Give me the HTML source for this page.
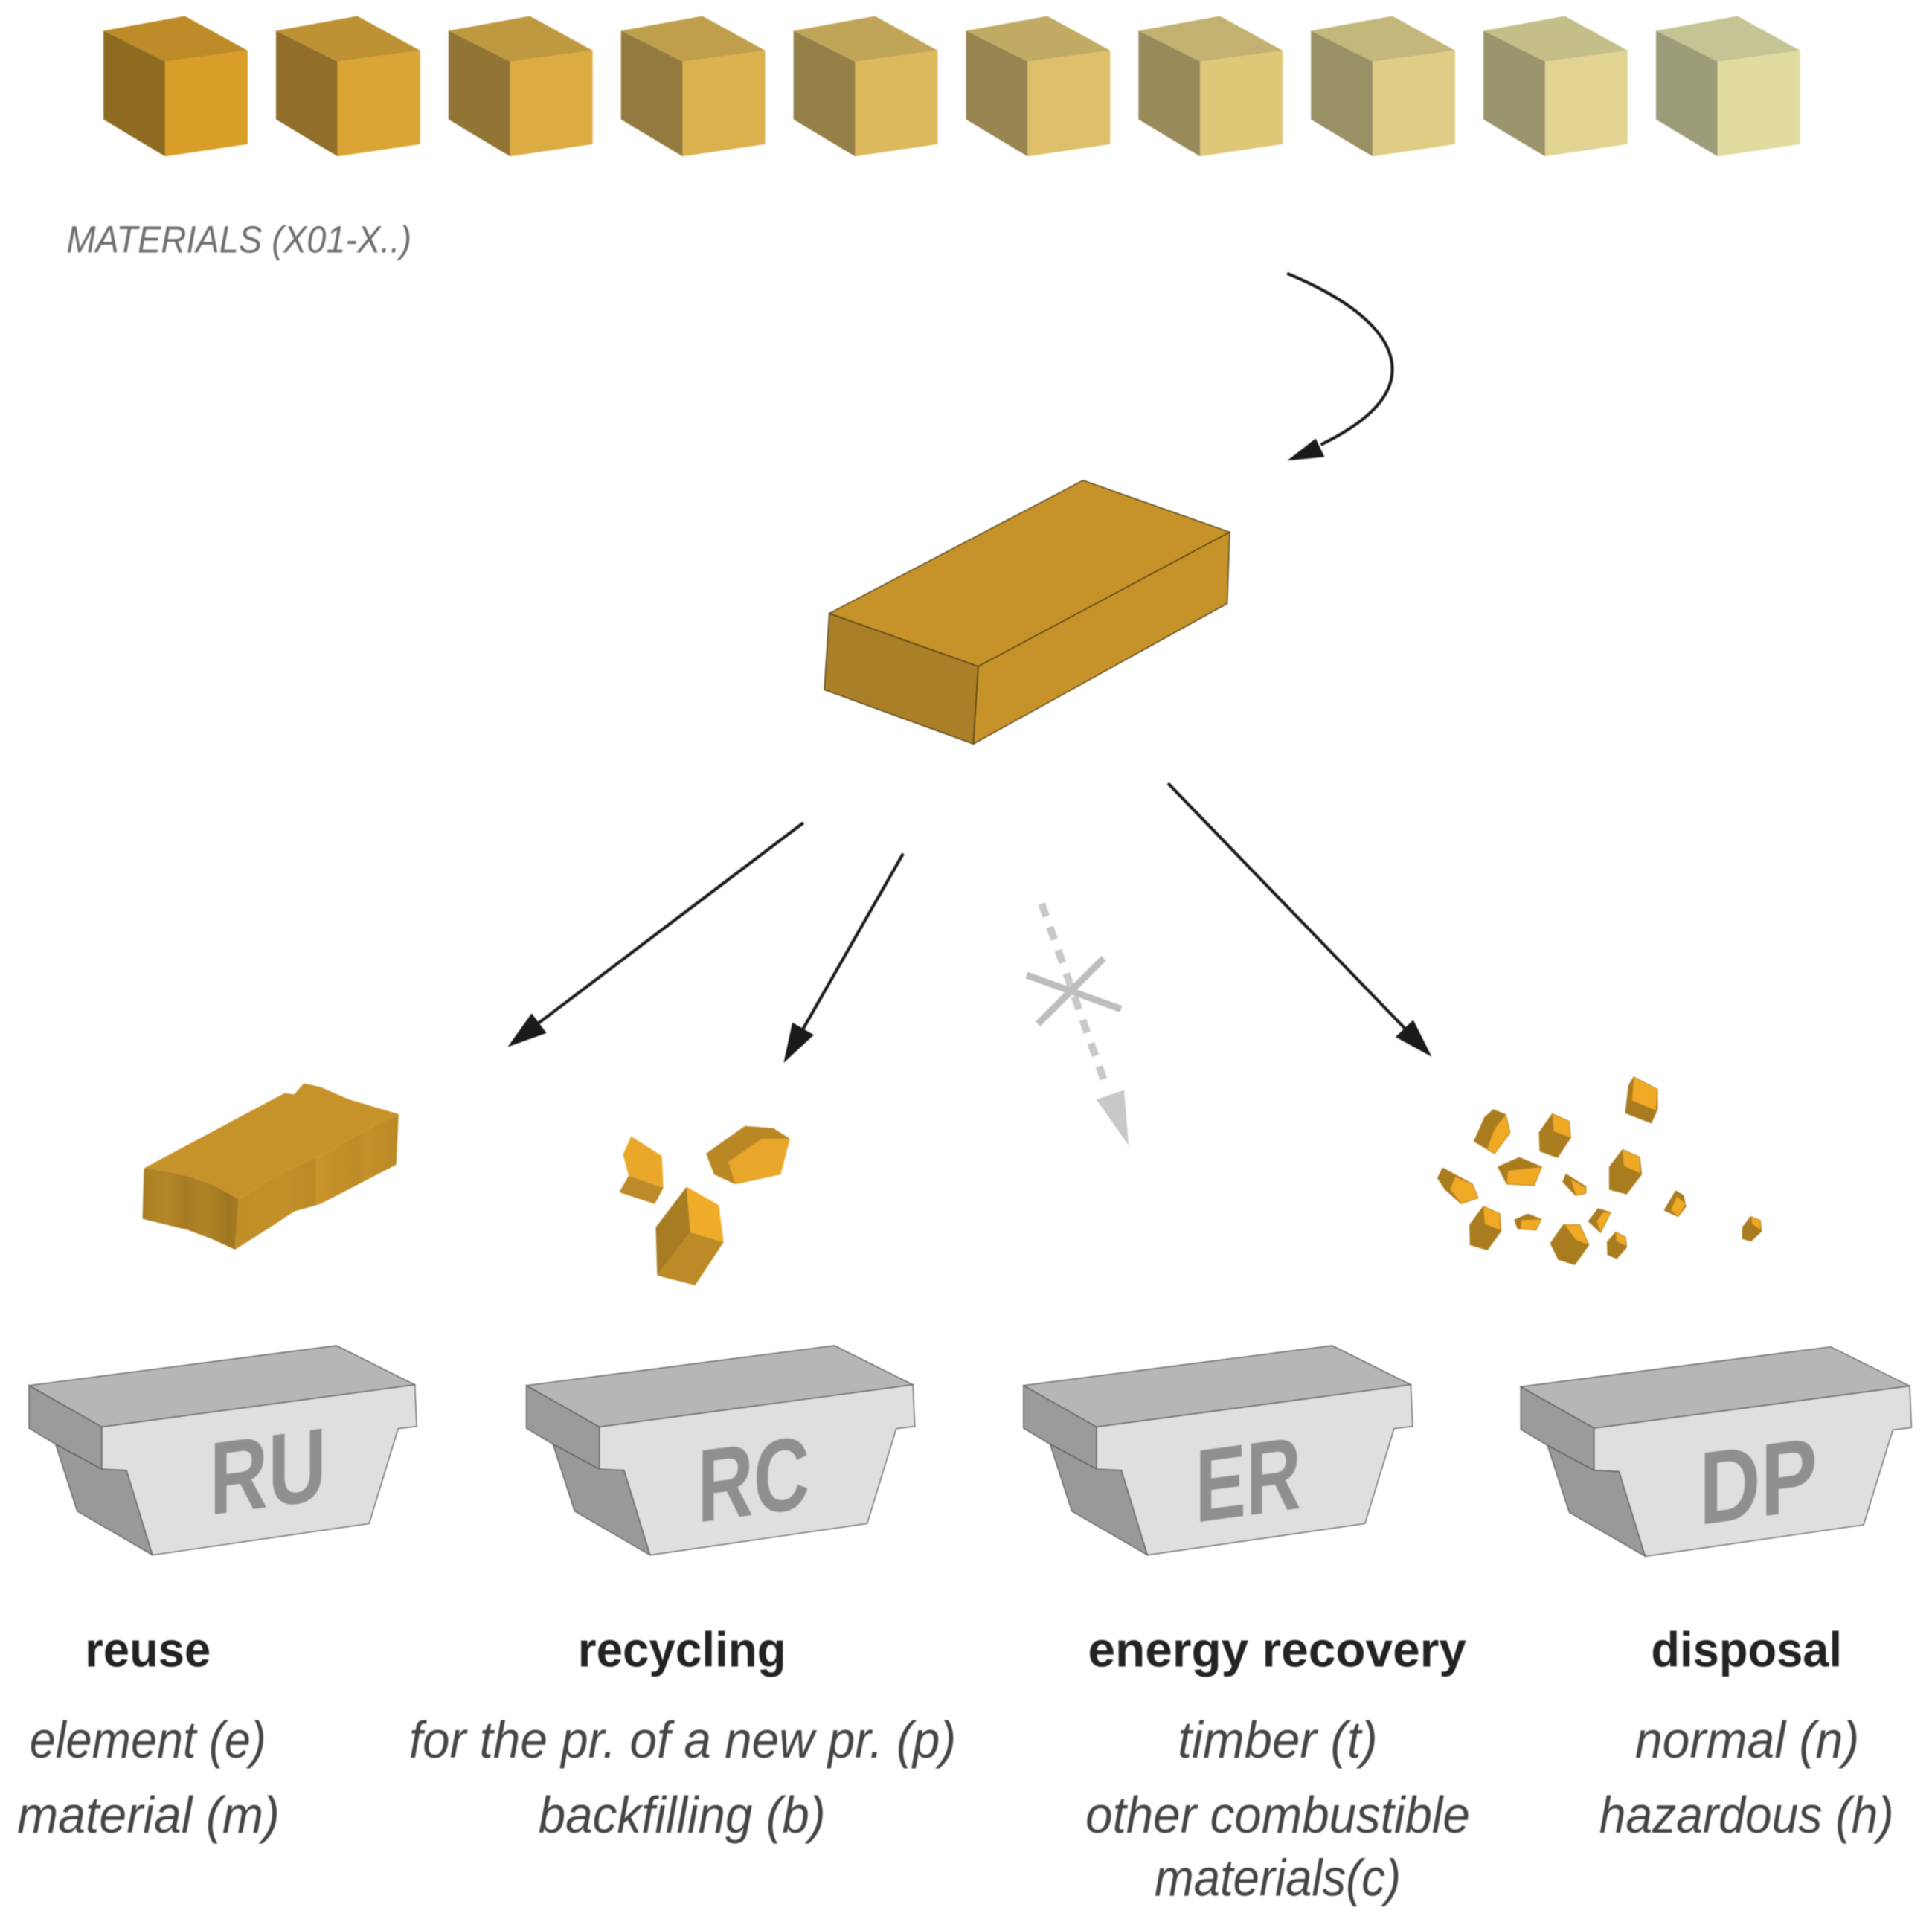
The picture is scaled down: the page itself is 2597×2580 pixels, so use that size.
<!DOCTYPE html>
<html lang="en"><head><meta charset="utf-8"><title>Materials diagram</title>
<style>
html,body{margin:0;padding:0;background:#fff}
svg{display:block;filter:blur(.7px)}
.h{font-family:"Liberation Sans",sans-serif;font-weight:bold;font-size:40px;fill:#222}
.i{font-family:"Liberation Sans",sans-serif;font-style:italic;font-size:42px;fill:#444}
.b{font-family:"Liberation Sans",sans-serif;font-weight:bold;font-size:84px;fill:#8f8f8f}
</style></head><body>
<svg xmlns="http://www.w3.org/2000/svg" width="2597" height="2580" viewBox="0 0 1568 1558" preserveAspectRatio="none">
<rect width="1568" height="1558" fill="#fff"/>
<defs>
<linearGradient id="fl" x1="0" x2="1" y1="0" y2="0">
<stop offset="0" stop-color="#A87E24"/><stop offset=".25" stop-color="#B48727"/><stop offset=".45" stop-color="#A67B23"/><stop offset=".65" stop-color="#B08325"/><stop offset=".9" stop-color="#9E7521"/><stop offset="1" stop-color="#A87C23"/>
</linearGradient>
<linearGradient id="fr" x1="0" x2="1" y1="0" y2="0">
<stop offset="0" stop-color="#C08E27"/><stop offset=".3" stop-color="#C39029"/><stop offset=".48" stop-color="#B98926"/><stop offset=".5" stop-color="#C7952B"/><stop offset=".75" stop-color="#BC8B27"/><stop offset=".8" stop-color="#C39029"/><stop offset="1" stop-color="#BA8926"/>
</linearGradient>
<g id="bin">
<polygon points="47,188 165,355 165,525 90,425 47,360" fill="#9b9b9b" stroke="#555" stroke-width="1.2" vector-effect="non-scaling-stroke"/>
<polygon points="90,425 165,525 205,530 247,872 125,695" fill="#999" stroke="#555" stroke-width="1.2" vector-effect="non-scaling-stroke"/>
<polygon points="165,355 672,185 675,353 645,362 598,745 247,872 205,530 165,525" fill="#e0dfdf" stroke="#555" stroke-width="1.2" vector-effect="non-scaling-stroke"/>
<polygon points="47,188 545,27 672,185 165,355" fill="#b6b6b6" stroke="#555" stroke-width="1.2" vector-effect="non-scaling-stroke"/>
</g>
</defs>

<g id="cubes">
<g><polygon points="84,25 150,13 201,41 134,50" fill="#BD8C28"/><polygon points="84,25 134,50 134,127 84,97" fill="#8F6A21"/><polygon points="134,50 201,41 201,117 134,127" fill="#D99E27"/></g>
<g transform="translate(140,0)"><polygon points="84,25 150,13 201,41 134,50" fill="#BE9234"/><polygon points="84,25 134,50 134,127 84,97" fill="#916F2B"/><polygon points="134,50 201,41 201,117 134,127" fill="#DAA534"/></g>
<g transform="translate(280,0)"><polygon points="84,25 150,13 201,41 134,50" fill="#BF9940"/><polygon points="84,25 134,50 134,127 84,97" fill="#927534"/><polygon points="134,50 201,41 201,117 134,127" fill="#DBAC42"/></g>
<g transform="translate(420,0)"><polygon points="84,25 150,13 201,41 134,50" fill="#BF9F4C"/><polygon points="84,25 134,50 134,127 84,97" fill="#947A3E"/><polygon points="134,50 201,41 201,117 134,127" fill="#DCB24F"/></g>
<g transform="translate(560,0)"><polygon points="84,25 150,13 201,41 134,50" fill="#C0A558"/><polygon points="84,25 134,50 134,127 84,97" fill="#958048"/><polygon points="134,50 201,41 201,117 134,127" fill="#DDB95D"/></g>
<g transform="translate(700,0)"><polygon points="84,25 150,13 201,41 134,50" fill="#C1AB64"/><polygon points="84,25 134,50 134,127 84,97" fill="#978552"/><polygon points="134,50 201,41 201,117 134,127" fill="#DEC06A"/></g>
<g transform="translate(840,0)"><polygon points="84,25 150,13 201,41 134,50" fill="#C2B170"/><polygon points="84,25 134,50 134,127 84,97" fill="#988A5B"/><polygon points="134,50 201,41 201,117 134,127" fill="#DFC778"/></g>
<g transform="translate(980,0)"><polygon points="84,25 150,13 201,41 134,50" fill="#C3B77C"/><polygon points="84,25 134,50 134,127 84,97" fill="#9A9065"/><polygon points="134,50 201,41 201,117 134,127" fill="#E0CD85"/></g>
<g transform="translate(1120,0)"><polygon points="84,25 150,13 201,41 134,50" fill="#C4BE88"/><polygon points="84,25 134,50 134,127 84,97" fill="#9B956E"/><polygon points="134,50 201,41 201,117 134,127" fill="#E1D493"/></g>
<g transform="translate(1260,0)"><polygon points="84,25 150,13 201,41 134,50" fill="#C5C494"/><polygon points="84,25 134,50 134,127 84,97" fill="#9D9C78"/><polygon points="134,50 201,41 201,117 134,127" fill="#E2DBA0"/></g>
</g>

<text x="54" y="205" class="i" style="font-size:31px;fill:#6e6e6e" textLength="280" lengthAdjust="spacingAndGlyphs">MATERIALS (X01-X..)</text>

<path d="M1044.6,222 C1100,245 1130,272 1130,300 C1130,325 1105,345 1072,361" fill="none" stroke="#1a1a1a" stroke-width="2.5"/>
<polygon points="1044.7,374 1067.8,356 1075,371" fill="#1a1a1a"/>

<g stroke="#4a3a12" stroke-width=".8">
<polygon points="673,498 794,541 790,604 669,560" fill="#AA7F27"/>
<polygon points="794,541 998,432 996,490 790,604" fill="#C6932A"/>
<polygon points="673,498 879,390 998,432 794,541" fill="#C6932A"/>
</g>

<g stroke="#1a1a1a" stroke-width="2.5" fill="none">
<line x1="652" y1="668" x2="430" y2="836"/>
<line x1="733" y1="693" x2="648" y2="842"/>
<line x1="948" y1="636" x2="1146" y2="841"/>
</g>
<polygon points="412,850 443.5,838.7 431.5,822.7" fill="#1a1a1a"/>
<polygon points="636,863 660.5,840.2 643.1,830.2" fill="#1a1a1a"/>
<polygon points="1162,858 1147,828.1 1132.6,841.9" fill="#1a1a1a"/>

<line x1="845.4" y1="733.7" x2="896" y2="877" stroke="#c8c8c8" stroke-width="6" stroke-dasharray="11 9"/>
<polygon points="916,930 912.3,885 889.7,892.6" fill="#c8c8c8"/>
<g stroke="#bdbdbd" stroke-width="5.5"><line x1="833.3" y1="791.7" x2="909.8" y2="819.2"/><line x1="842.4" y1="831.3" x2="895.7" y2="778"/></g>

<g transform="translate(90.6,857.5) scale(.385,.2)">
<polygon points="68,455 110,465 160,486 215,523 268,580 260,785 215,745 160,705 65,660" fill="url(#fl)"/>
<polygon points="268,580 350,480 450,395 560,275 605,235 600,440 440,600 385,630 330,700 260,785" fill="url(#fr)"/>
<polygon points="68,455 335,180 365,150 385,155 405,110 440,125 500,175 605,235 560,275 450,395 350,480 268,580 215,523 160,486 110,465" fill="#C6932A"/>
<polygon points="1095,325 1160,405 1163,535 1090,485 1078,400" fill="#EAA82A"/>
<polygon points="1090,485 1163,535 1145,600 1070,552" fill="#BC8A26"/>
<polygon points="1335,283 1395,292 1430,335 1410,480 1315,520 1270,480 1253,395" fill="#B98825"/>
<polygon points="1370,335 1430,335 1410,480 1315,520 1300,430" fill="#E8A62A"/>
<polygon points="1212,530 1220,715 1150,890 1147,695" fill="#A87C22"/>
<polygon points="1220,715 1290,755 1230,930 1150,890" fill="#BC8A26"/>
<polygon points="1212,530 1280,605 1290,755 1220,715" fill="#F0AC28"/>
</g>

<g transform="translate(1147,857.5) scale(.2,.2)">
<g fill="#AA7C20" stroke="#AA7C20" stroke-width="5">
<polygon points="248,345 290,250 325,218 375,238 392,310 330,395"/>
<polygon points="512,310 565,235 632,265 638,330 585,410 515,385"/>
<polygon points="895,85 990,135 990,215 965,270 862,230 875,120"/>
<polygon points="850,380 918,410 925,480 865,558 797,540 797,450"/>
<polygon points="120,455 240,520 262,575 195,598 130,540 100,495"/>
<polygon points="345,450 430,412 520,450 490,525 380,518"/>
<polygon points="620,480 700,530 700,555 660,565 608,510"/>
<polygon points="285,610 350,640 355,710 300,785 232,765 230,685"/>
<polygon points="412,665 465,642 518,662 498,705 425,700"/>
<polygon points="610,685 675,685 712,765 655,845 590,825 558,760"/>
<polygon points="750,620 800,635 760,715 712,670"/>
<polygon points="822,715 860,735 865,775 825,820 790,805 788,755"/>
<polygon points="1065,548 1095,565 1105,610 1075,650 1020,625"/>
<polygon points="1370,652 1408,668 1412,710 1370,750 1337,740 1337,695"/>
</g>
<g fill="#EFA925">
<polygon points="375,238 392,310 330,395 300,375 330,295"/>
<polygon points="565,235 632,265 638,330 570,305"/>
<polygon points="895,85 990,135 985,220 888,180"/>
<polygon points="850,380 918,410 920,475 855,445"/>
<polygon points="170,490 240,520 262,575 195,598 150,540"/>
<polygon points="385,465 520,450 490,525 380,518"/>
<polygon points="640,500 700,535 700,555 660,565"/>
<polygon points="285,610 350,640 352,705 290,680"/>
<polygon points="440,665 518,662 498,705 435,700"/>
<polygon points="615,685 675,685 712,765 660,745"/>
<polygon points="770,635 800,635 760,715 745,670"/>
<polygon points="822,715 860,735 862,770 825,750"/>
<polygon points="1070,570 1105,600 1075,650 1045,625"/>
<polygon points="1372,652 1408,668 1410,705 1375,680"/>
</g>
</g>

<use href="#bin" transform="translate(0,1087) scale(.501,.2013)"/>
<use href="#bin" transform="translate(403.6,1087) scale(.502,.2013)"/>
<use href="#bin" transform="translate(807,1087) scale(.503,.2013)"/>
<use href="#bin" transform="translate(1210.5,1088) scale(.505,.2013)"/>

<text class="b" transform="translate(170,1230) skewY(-7.7)" textLength="95" lengthAdjust="spacingAndGlyphs">RU</text>
<text class="b" transform="translate(566,1236) skewY(-7.7)" textLength="91" lengthAdjust="spacingAndGlyphs">RC</text>
<text class="b" transform="translate(970,1236) skewY(-7.7)" textLength="86" lengthAdjust="spacingAndGlyphs">ER</text>
<text class="b" transform="translate(1379,1238) skewY(-7.7)" textLength="96" lengthAdjust="spacingAndGlyphs">DP</text>

<text class="h" x="69" y="1353" textLength="102" lengthAdjust="spacingAndGlyphs">reuse</text>
<text class="h" x="469" y="1353" textLength="169" lengthAdjust="spacingAndGlyphs">recycling</text>
<text class="h" x="883" y="1353" textLength="307" lengthAdjust="spacingAndGlyphs">energy recovery</text>
<text class="h" x="1340" y="1353" textLength="155" lengthAdjust="spacingAndGlyphs">disposal</text>

<text class="i" x="24" y="1427" textLength="192" lengthAdjust="spacingAndGlyphs">element (e)</text>
<text class="i" x="14" y="1488" textLength="213" lengthAdjust="spacingAndGlyphs">material (m)</text>
<text class="i" x="332" y="1427" textLength="444" lengthAdjust="spacingAndGlyphs">for the pr. of a new pr. (p)</text>
<text class="i" x="437" y="1488" textLength="233" lengthAdjust="spacingAndGlyphs">backfilling (b)</text>
<text class="i" x="956" y="1427" textLength="162" lengthAdjust="spacingAndGlyphs">timber (t)</text>
<text class="i" x="881" y="1488" textLength="312" lengthAdjust="spacingAndGlyphs">other combustible</text>
<text class="i" x="937" y="1539" textLength="200" lengthAdjust="spacingAndGlyphs">materials(c)</text>
<text class="i" x="1327" y="1427" textLength="182" lengthAdjust="spacingAndGlyphs">normal (n)</text>
<text class="i" x="1298" y="1488" textLength="239" lengthAdjust="spacingAndGlyphs">hazardous (h)</text>
</svg>
</body></html>
